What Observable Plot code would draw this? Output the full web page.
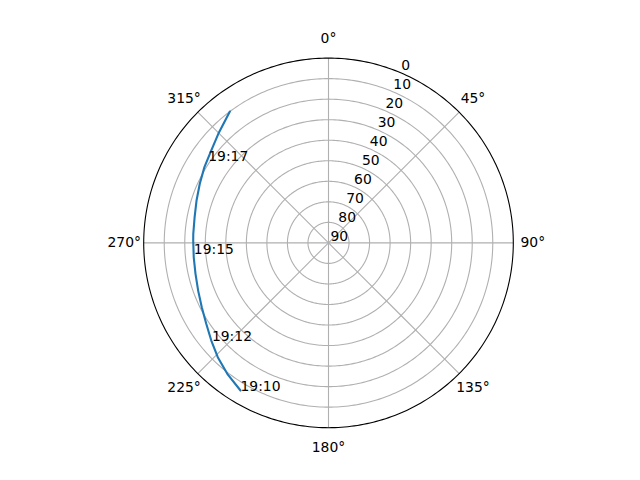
<!DOCTYPE html>
<html><head><meta charset="utf-8">
<script src="https://cdn.jsdelivr.net/npm/d3@7"></script>
<script src="https://cdn.jsdelivr.net/npm/@observablehq/plot@0.6"></script>
<style>body{margin:0;background:#fff}</style>
</head><body><div id="chart"></div>
<script>
// Satellite pass: azimuth (deg, clockwise from N) and elevation (deg)
const trackAz = [210.8, 217.7, 224.1, 230.2, 236.5, 243.1, 249.9, 256.9, 263.9, 271.0, 273.8, 280.9, 287.8, 294.7, 301.4, 308.2, 314.7, 323.1];
const trackEl = [6.3, 9.4, 12.5, 15.7, 18.6, 20.8, 22.4, 23.5, 24.0, 24.1, 24.0, 23.6, 22.5, 21.0, 19.2, 17.3, 14.5, 10.0];
const timeLabels = ["19:10", "19:12", "19:15", "19:17"];
const labelAz = [210.8, 230.0, 265.4, 304.4];
const labelEl = [6.3, 15.9, 24.2, 19.0];
const ringEl = [10, 20, 30, 40, 50, 60, 70, 80];
const rTicks = [0, 10, 20, 30, 40, 50, 60, 70, 80, 90];
const thetaTicks = [0, 45, 90, 135, 180, 225, 270, 315];

const R = 184.8;
const proj = d3.geoAzimuthalEquidistant()
  .rotate([0, -90])
  .reflectY(true)
  .scale(R / (Math.PI / 2))
  .translate([328, 242.4]);

const track = trackAz.map((a, i) => ({az: a, el: trackEl[i]}));
const labels = timeLabels.map((t, i) => ({t, az: labelAz[i], el: labelEl[i]}));
const FS = 13.9;

const chart = Plot.plot({
  width: 640,
  height: 480,
  margin: 0,
  projection: proj,
  style: {fontFamily: "DejaVu Sans, sans-serif", fontSize: FS + "px", background: "#fff"},
  marks: [
    Plot.geo(ringEl, {geometry: e => d3.geoCircle().center([0, 90]).radius(90 - e).precision(1)(), fill: "none", stroke: "#b0b0b0", strokeWidth: 1.1}),
    Plot.link(thetaTicks, {x1: d => d, y1: 90, x2: d => d, y2: 0, stroke: "#b0b0b0", strokeWidth: 1.1}),
    Plot.geo([0], {geometry: () => d3.geoCircle().center([0, 90]).radius(90).precision(1)(), fill: "none", stroke: "#000", strokeWidth: 1.1}),
    Plot.line(track, {x: "az", y: "el", stroke: "#1f77b4", strokeWidth: 2.1}),
    Plot.text(rTicks, {x: 22.5, y: d => d, text: d => String(d), textAnchor: "start", lineAnchor: "bottom", dx: 2, dy: -2, fontSize: FS, fill: "#000"}),
    Plot.text(thetaTicks, {x: d => d, y: -9.5, text: d => d + "°", textAnchor: "middle", lineAnchor: "middle", fontSize: FS, fill: "#000"}),
    Plot.text(labels, {x: "az", y: "el", text: "t", textAnchor: "start", lineAnchor: "bottom", fontSize: FS, fill: "#000"})
  ]
});
document.getElementById("chart").appendChild(chart);
</script>
</body></html>
